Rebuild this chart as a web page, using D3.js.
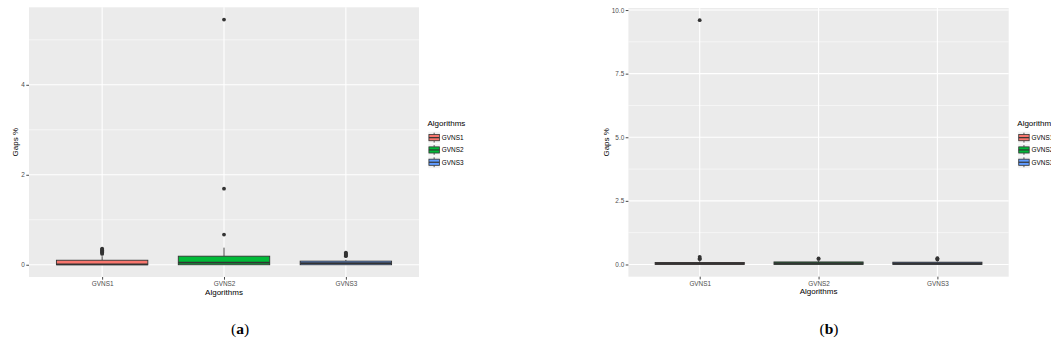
<!DOCTYPE html>
<html>
<head>
<meta charset="utf-8">
<script src="https://cdn.jsdelivr.net/npm/d3@7"></script>
<style>
  html, body { margin: 0; padding: 0; background: #ffffff; }
  svg { display: block; }
</style>
</head>
<body>
<svg id="chart" width="1051" height="352"></svg>
<script>
// Shared categories and fill colours
const categories = ["GVNS1", "GVNS2", "GVNS3"];
const fills = ["#F8766D", "#00BA38", "#619CFF"];

// Panel (a): box statistics per algorithm
const aQ1 = [0, 0, 0];
const aMedian = [0.01, 0.045, 0.035];
const aQ3 = [0.10, 0.19, 0.08];
const aWhiskerLow = [0, 0, 0];
const aWhiskerHigh = [0.19, 0.38, 0.11];
const aOutliers = [
  [0.24, 0.26, 0.28, 0.30, 0.32, 0.34, 0.36],
  [0.67, 1.69, 5.45],
  [0.19, 0.21, 0.23, 0.25, 0.27]
];
const aTicks = [0, 2, 4];
const aTickLabels = ["0", "2", "4"];
const aMinorTicks = [1, 3, 5];

// Panel (b): box statistics per algorithm
const bQ1 = [0, 0, 0];
const bMedian = [0.04, 0.05, 0.045];
const bQ3 = [0.08, 0.10, 0.09];
const bWhiskerLow = [0, 0, 0];
const bWhiskerHigh = [0.13, 0.15, 0.12];
const bOutliers = [
  [0.21, 0.25, 0.30, 9.60],
  [0.22, 0.24],
  [0.20, 0.23, 0.25]
];
const bTicks = [0, 2.5, 5, 7.5, 10];
const bTickLabels = ["0.0", "2.5", "5.0", "7.5", "10.0"];
const bMinorTicks = [1.25, 3.75, 6.25, 8.75];

const svg = d3.select("#chart");
const SANS = "'Liberation Sans', Arial, Helvetica, sans-serif";

function drawPanel(p) {
  const g = svg.append("g");
  const { left, right, top, bottom } = p.box;

  // y domain: data range expanded by 5% on both sides
  const all = [];
  p.q1.forEach((_, i) => {
    all.push(p.wLow[i], p.wHigh[i], p.q1[i], p.q3[i], ...p.outliers[i]);
  });
  const lo = d3.min(all), hi = d3.max(all);
  const pad = (hi - lo) * 0.05;
  const y = d3.scaleLinear().domain([lo - pad, hi + pad]).range([bottom, top]);

  // discrete x with 0.6 expansion on each side
  const x = d3.scalePoint().domain(categories).range([left, right]).padding(0.6);
  const step = x.step();
  const bw = step * 0.75;

  // panel background
  g.append("rect")
    .attr("x", left).attr("y", top)
    .attr("width", right - left).attr("height", bottom - top)
    .attr("fill", "#EBEBEB");

  // minor grid
  g.selectAll(".minor").data(p.minor).enter().append("line")
    .attr("x1", left).attr("x2", right)
    .attr("y1", d => y(d)).attr("y2", d => y(d))
    .attr("stroke", "#ffffff").attr("stroke-width", 0.55);

  // major grid
  g.selectAll(".majorY").data(p.ticks).enter().append("line")
    .attr("x1", left).attr("x2", right)
    .attr("y1", d => y(d)).attr("y2", d => y(d))
    .attr("stroke", "#ffffff").attr("stroke-width", 1.1);
  g.selectAll(".majorX").data(categories).enter().append("line")
    .attr("x1", d => x(d)).attr("x2", d => x(d))
    .attr("y1", top).attr("y2", bottom)
    .attr("stroke", "#ffffff").attr("stroke-width", 1.1);

  // boxes
  categories.forEach((c, i) => {
    const cx = x(c);
    // whiskers
    g.append("line")
      .attr("x1", cx).attr("x2", cx)
      .attr("y1", y(p.q3[i])).attr("y2", y(p.wHigh[i]))
      .attr("stroke", "#333333").attr("stroke-width", 0.9);
    g.append("line")
      .attr("x1", cx).attr("x2", cx)
      .attr("y1", y(p.q1[i])).attr("y2", y(p.wLow[i]))
      .attr("stroke", "#333333").attr("stroke-width", 0.9);
    // box
    g.append("rect")
      .attr("x", cx - bw / 2).attr("width", bw)
      .attr("y", y(p.q3[i])).attr("height", y(p.q1[i]) - y(p.q3[i]))
      .attr("fill", fills[i]).attr("stroke", "#333333").attr("stroke-width", 0.9);
    // median
    g.append("line")
      .attr("x1", cx - bw / 2).attr("x2", cx + bw / 2)
      .attr("y1", y(p.median[i])).attr("y2", y(p.median[i]))
      .attr("stroke", "#333333").attr("stroke-width", 1.7);
    // outliers
    g.selectAll(null).data(p.outliers[i]).enter().append("circle")
      .attr("cx", cx).attr("cy", d => y(d)).attr("r", 1.9)
      .attr("fill", "#333333");
  });

  // y axis ticks and labels
  const yAxis = d3.axisLeft(y).tickValues(p.ticks)
    .tickFormat((d, i) => p.tickLabels[i]).tickSize(2.7).tickPadding(1.5);
  const ya = g.append("g").attr("transform", `translate(${left},0)`).call(yAxis);
  ya.select(".domain").remove();
  ya.selectAll(".tick line").attr("stroke", "#333333").attr("stroke-width", 0.9);
  ya.selectAll(".tick text").attr("fill", "#4D4D4D")
    .style("font-family", SANS).style("font-size", "6.4px");

  // x axis ticks and labels
  const xAxis = d3.axisBottom(x).tickSize(2.7).tickPadding(1.6);
  const xa = g.append("g").attr("transform", `translate(0,${bottom})`).call(xAxis);
  xa.select(".domain").remove();
  xa.selectAll(".tick line").attr("stroke", "#333333").attr("stroke-width", 0.9);
  xa.selectAll(".tick text").attr("fill", "#4D4D4D")
    .style("font-family", SANS).style("font-size", "6.4px");

  // axis titles
  g.append("text")
    .attr("x", (left + right) / 2).attr("y", bottom + 17.5)
    .attr("text-anchor", "middle")
    .style("font-family", SANS).style("font-size", "8px").attr("fill", "#000")
    .text("Algorithms");
  g.append("text")
    .attr("transform", `translate(${p.yTitleX},${(top + bottom) / 2}) rotate(-90)`)
    .attr("text-anchor", "middle")
    .style("font-family", SANS).style("font-size", "8px").attr("fill", "#000")
    .text("Gaps %");

  // legend
  const lg = g.append("g").attr("transform", `translate(${p.legendX},${p.legendY})`);
  lg.append("text").attr("x", 0).attr("y", 0)
    .style("font-family", SANS).style("font-size", "8px").attr("fill", "#000")
    .text("Algorithms");
  const key = 12.3;
  categories.forEach((c, i) => {
    const ky = 6 + i * key;
    const kg = lg.append("g").attr("transform", `translate(0.5,${ky})`);
    kg.append("rect").attr("width", key).attr("height", key)
      .attr("fill", "#F2F2F2").attr("stroke", "#ffffff").attr("stroke-width", 0.5);
    const kx = key / 2;
    kg.append("line").attr("x1", kx).attr("x2", kx).attr("y1", key * 0.1).attr("y2", key * 0.25)
      .attr("stroke", "#333333").attr("stroke-width", 0.8);
    kg.append("line").attr("x1", kx).attr("x2", kx).attr("y1", key * 0.75).attr("y2", key * 0.9)
      .attr("stroke", "#333333").attr("stroke-width", 0.8);
    kg.append("rect").attr("x", key * 0.075).attr("width", key * 0.85)
      .attr("y", key * 0.25).attr("height", key * 0.5)
      .attr("fill", fills[i]).attr("stroke", "#333333").attr("stroke-width", 0.8);
    kg.append("line").attr("x1", key * 0.075).attr("x2", key * 0.925)
      .attr("y1", key / 2).attr("y2", key / 2)
      .attr("stroke", "#333333").attr("stroke-width", 1.2);
    lg.append("text").attr("x", key + 2).attr("y", ky + key / 2)
      .attr("dominant-baseline", "central")
      .style("font-family", SANS).style("font-size", "6.4px").attr("fill", "#000")
      .text(c);
  });

  // caption
  const cap = svg.append("text")
    .attr("x", p.captionX).attr("y", 334)
    .attr("text-anchor", "middle")
    .style("font-family", "'Liberation Serif', 'DejaVu Serif', serif")
    .style("font-size", "15.5px").attr("fill", "#000");
  cap.append("tspan").text("(");
  cap.append("tspan").attr("font-weight", "bold").text(p.captionLetter);
  cap.append("tspan").text(")");
}

drawPanel({
  box: { left: 29, right: 419, top: 7.3, bottom: 277 },
  q1: aQ1, median: aMedian, q3: aQ3, wLow: aWhiskerLow, wHigh: aWhiskerHigh,
  outliers: aOutliers, ticks: aTicks, tickLabels: aTickLabels, minor: aMinorTicks,
  yTitleX: 17.5, legendX: 427.5, legendY: 125.5,
  captionX: 240, captionLetter: "a"
});

drawPanel({
  box: { left: 628.4, right: 1008.7, top: 8, bottom: 276.7 },
  q1: bQ1, median: bMedian, q3: bQ3, wLow: bWhiskerLow, wHigh: bWhiskerHigh,
  outliers: bOutliers, ticks: bTicks, tickLabels: bTickLabels, minor: bMinorTicks,
  yTitleX: 608.5, legendX: 1017.3, legendY: 125.5,
  captionX: 829, captionLetter: "b"
});
</script>
</body>
</html>
